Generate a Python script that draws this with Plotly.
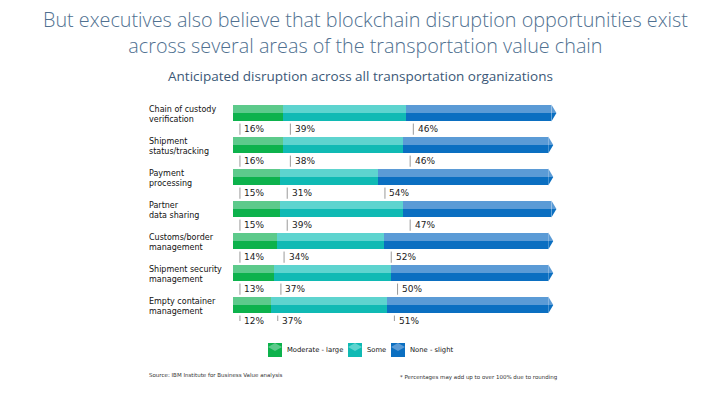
import plotly.graph_objects as go

categories = [
    "Chain of custody<br>verification",
    "Shipment<br>status/tracking",
    "Payment<br>processing",
    "Partner<br>data sharing",
    "Customs/border<br>management",
    "Shipment security<br>management",
    "Empty container<br>management",
]
moderate_large = [16, 16, 15, 15, 14, 13, 12]
some = [39, 38, 31, 39, 34, 37, 37]
none_slight = [46, 46, 54, 47, 52, 50, 51]

series_names = ["Moderate - large", "Some", "None - slight"]
top_colors = ["#5dca8b", "#5ed4cf", "#5b9bd6"]
bottom_colors = ["#0db24c", "#10bab4", "#0b6fc1"]

series = [moderate_large, some, none_slight]
n = len(categories)
idx = list(range(n))
H = 0.265  # half bar thickness in category units

# plot area in pixels (for converting page positions to paper coords)
L, R, T, B = 233, 564, 97, 321
def px(x):
    return (x - L) / (R - L)
def py(y):
    return (B - y) / (B - T)

fig = go.Figure()

bases = [[0] * n]
for s in series[:-1]:
    bases.append([b + v for b, v in zip(bases[-1], s)])

for k, s in enumerate(series):
    fig.add_trace(go.Bar(
        y=idx, x=s, base=bases[k], orientation="h",
        offset=-H, width=H, marker=dict(color=top_colors[k], line=dict(width=0)),
        showlegend=False, hoverinfo="skip"))
    fig.add_trace(go.Bar(
        y=idx, x=s, base=bases[k], orientation="h",
        offset=0, width=H, marker=dict(color=bottom_colors[k], line=dict(width=0)),
        name=series_names[k], showlegend=False, hoverinfo="skip"))

shapes = []
annotations = []
totals = [a + b + c for a, b, c in zip(*series)]
for i in idx:
    shapes.append(dict(type="path", xref="x", yref="y",
                       path=f"M 0 {i-H} L -1.3 {i} L 0 {i} Z",
                       fillcolor=top_colors[0], line=dict(width=0)))
    shapes.append(dict(type="path", xref="x", yref="y",
                       path=f"M 0 {i+H} L -1.3 {i} L 0 {i} Z",
                       fillcolor=bottom_colors[0], line=dict(width=0)))
    t = totals[i]
    shapes.append(dict(type="path", xref="x", yref="y",
                       path=f"M {t} {i-H} L {t+1.6} {i} L {t} {i} Z",
                       fillcolor=top_colors[2], line=dict(width=0)))
    shapes.append(dict(type="path", xref="x", yref="y",
                       path=f"M {t} {i+H} L {t+1.6} {i} L {t} {i} Z",
                       fillcolor=bottom_colors[2], line=dict(width=0)))
    for k, s in enumerate(series):
        b = bases[k][i]
        shapes.append(dict(type="line", xref="x", yref="y",
                           x0=b + 2.2, x1=b + 2.2, y0=i + 0.33, y1=i + 0.68,
                           line=dict(color="#9a9a9a", width=1)))
        annotations.append(dict(x=b + 3.0, y=i + 0.5, xref="x", yref="y",
                                text=f"{s[i]}%", showarrow=False,
                                xanchor="left", yanchor="middle",
                                font=dict(family="DejaVu Sans", size=9, color="#222222")))
    annotations.append(dict(x=px(147), y=i - 0.32, xref="paper", yref="y",
                            text=categories[i], showarrow=False, align="left",
                            xanchor="left", yanchor="top",
                            font=dict(family="DejaVu Sans", size=8, color="#111111")))

# legend (cube-like swatches)
legend_x = [268, 348, 391]
for k, name in enumerate(series_names):
    x0 = legend_x[k]
    shapes.append(dict(type="rect", xref="paper", yref="paper",
                       x0=px(x0), x1=px(x0 + 14), y0=py(357), y1=py(343),
                       fillcolor=bottom_colors[k], line=dict(width=0)))
    shapes.append(dict(type="path", xref="paper", yref="paper",
                       path=f"M {px(x0)} {py(347)} L {px(x0 + 7)} {py(343)} L {px(x0 + 14)} {py(347)} L {px(x0 + 7)} {py(351)} Z",
                       fillcolor=top_colors[k], line=dict(width=0)))
    annotations.append(dict(x=px(x0 + 17), y=py(350), xref="paper", yref="paper",
                            text=name, showarrow=False, xanchor="left", yanchor="middle",
                            font=dict(family="DejaVu Sans", size=6.8, color="#111111")))

annotations += [
    dict(text="But executives also believe that blockchain disruption opportunities exist<br>across several areas of the transportation value chain",
         x=px(365), y=py(4), xref="paper", yref="paper", showarrow=False,
         xanchor="center", yanchor="top",
         font=dict(family="Open Sans", size=19.8, color="#4f7090", weight=300)),
    dict(text="Anticipated disruption across all transportation organizations",
         x=px(360), y=py(76), xref="paper", yref="paper", showarrow=False,
         xanchor="center", yanchor="middle",
         font=dict(family="Open Sans", size=13.5, color="#3b5877")),
    dict(text="Source: IBM Institute for Business Value analysis",
         x=px(147), y=py(375), xref="paper", yref="paper",
         showarrow=False, xanchor="left", yanchor="middle",
         font=dict(family="DejaVu Sans", size=5.5, color="#333333")),
    dict(text="* Percentages may add up to over 100% due to rounding",
         x=px(398), y=py(377), xref="paper", yref="paper",
         showarrow=False, xanchor="left", yanchor="middle",
         font=dict(family="DejaVu Sans", size=5.5, color="#333333")),
]

fig.update_layout(
    width=720, height=405,
    margin=dict(l=L, r=720 - R, t=T, b=405 - B),
    paper_bgcolor="white", plot_bgcolor="white",
    barmode="overlay", bargap=0, showlegend=False,
    xaxis=dict(range=[0, 105], visible=False, fixedrange=True),
    yaxis=dict(range=[6.5, -0.5], visible=False, fixedrange=True),
    shapes=shapes,
    annotations=annotations,
)

fig.write_html("out.html", config={"displayModeBar": False},
               post_script="document.body.style.margin='0';")
